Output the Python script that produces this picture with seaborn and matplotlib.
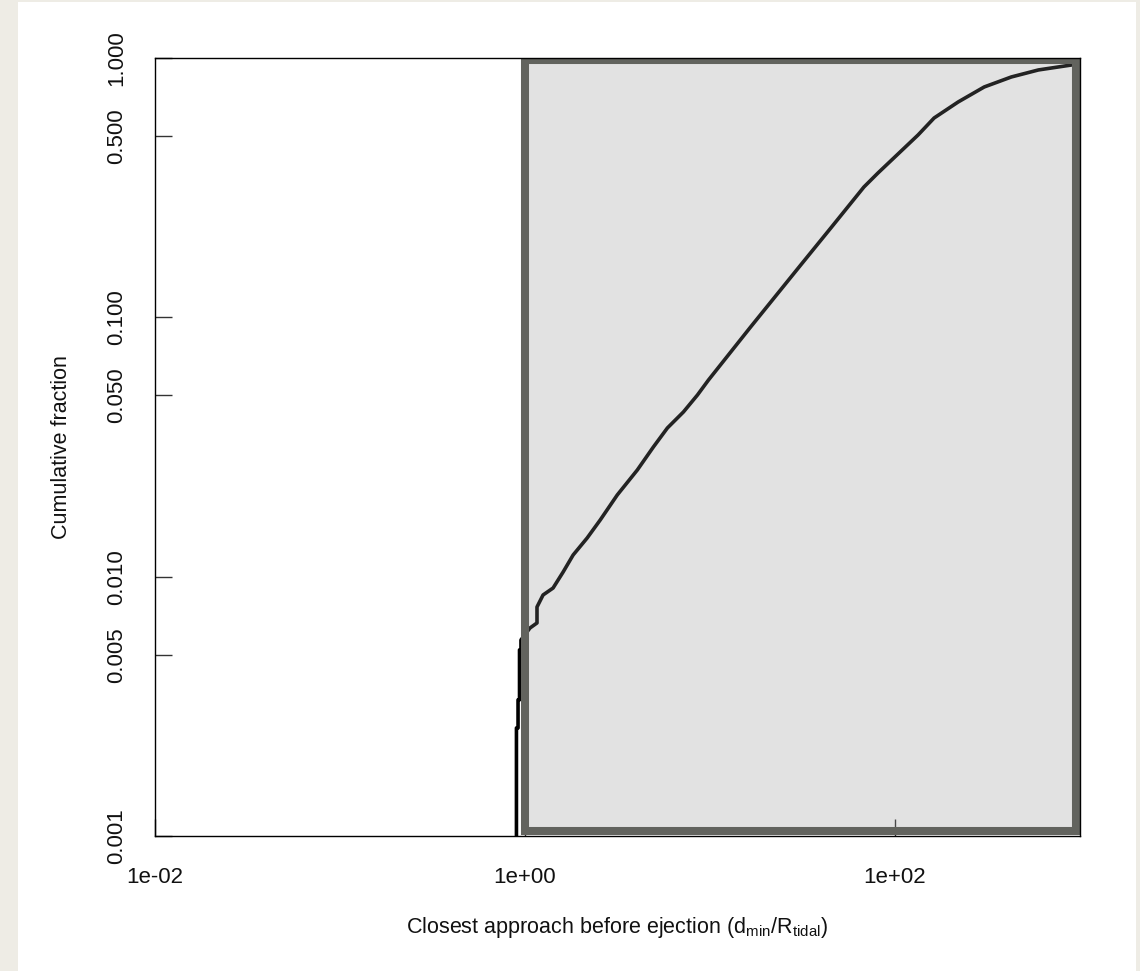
import matplotlib
matplotlib.use("Agg")
import matplotlib.pyplot as plt
from matplotlib.patches import Rectangle
import numpy as np
import pandas as pd
import seaborn as sns

# Cumulative distribution of closest approach (traced vertices of the ECDF curve)
d_ratio = [0.899, 0.899, 0.917, 0.917, 0.934, 0.934, 0.951, 0.951, 1.064, 1.161,
           1.161, 1.252, 1.418, 1.607, 1.820, 2.168, 2.550, 3.152, 4.046, 4.941,
           5.884, 7.184, 8.555, 9.815, 16.58, 30.94, 44.99, 67.92, 80.89, 133.3,
           162.7, 219.5, 303.7, 425.4, 595.7, 899.5]
cum_frac = [0.00100, 0.00261, 0.00261, 0.00335, 0.00335, 0.00522, 0.00522, 0.00570,
            0.00634, 0.00663, 0.00764, 0.00850, 0.00904, 0.01042, 0.01212, 0.01410,
            0.01654, 0.02065, 0.02578, 0.03162, 0.03744, 0.04316, 0.05018, 0.05733,
            0.09180, 0.1592, 0.2211, 0.3181, 0.3602, 0.5050, 0.5870, 0.6768,
            0.7733, 0.8450, 0.8993, 0.9398]

# Axis ticks
x_ticks = [1e-2, 1e0, 1e2]
x_tick_labels = ["1e-02", "1e+00", "1e+02"]
y_ticks = [0.001, 0.005, 0.010, 0.050, 0.100, 0.500, 1.000]
y_tick_labels = ["0.001", "0.005", "0.010", "0.050", "0.100", "0.500", "1.000"]

# Shaded region: d_min >= R_tidal
shade_x = (1.0, 955.0)
shade_y = (0.00105, 0.982)

sns.set_theme(style="white")
plt.rcParams["font.family"] = ["Liberation Sans", "DejaVu Sans"]
plt.rcParams["mathtext.fontset"] = "custom"
plt.rcParams["mathtext.rm"] = "Liberation Sans"
plt.rcParams["mathtext.default"] = "regular"

fig = plt.figure(figsize=(11.4, 9.71), dpi=100, facecolor="#eeece5")
fig.patches.append(Rectangle((18 / 1140, 0), (1136 - 18) / 1140, 969 / 971,
                             transform=fig.transFigure, facecolor="white",
                             edgecolor="none", zorder=-10))

ax = fig.add_axes([155 / 1140, (971 - 836) / 971, 925 / 1140, 778 / 971])
ax.set_facecolor("white")

df = pd.DataFrame({"d": d_ratio, "F": cum_frac})
sns.lineplot(data=df, x="d", y="F", ax=ax, sort=False, estimator=None,
             color="black", linewidth=2.6, zorder=2)

ax.set_xscale("log")
ax.set_yscale("log")
ax.set_xlim(1e-2, 1e3)
ax.set_ylim(1e-3, 1.0)

# Translucent fill over the curve, opaque thick border
ax.add_patch(Rectangle((shade_x[0], shade_y[0]), shade_x[1] - shade_x[0],
                       shade_y[1] - shade_y[0],
                       facecolor=(0.55, 0.55, 0.55, 0.25),
                       edgecolor="#62635e", linewidth=5.8, zorder=3))

ax.set_xticks(x_ticks)
ax.set_xticklabels(x_tick_labels)
ax.set_yticks(y_ticks)
ax.set_yticklabels(y_tick_labels, rotation=90, va="center")
ax.minorticks_off()
ax.tick_params(axis="both", direction="in", length=12, width=1.0,
               color="#333333", labelsize=16, labelcolor="#111111", pad=22,
               bottom=True, left=True)
ax.tick_params(axis="y", pad=20)

for s in ax.spines.values():
    s.set_color("black")
    s.set_linewidth(1.0)
    s.set_zorder(4)

ax.set_xlabel(r"Closest approach before ejection (d$_{min}$/R$_{tidal}$)",
              fontsize=15.5, color="#111111")
ax.set_ylabel("Cumulative fraction", fontsize=15.5, color="#111111")
ax.xaxis.set_label_coords(0.5, -0.101)
ax.yaxis.set_label_coords(-0.090, 0.5)

fig.savefig("out.png", dpi=100, facecolor=fig.get_facecolor())
